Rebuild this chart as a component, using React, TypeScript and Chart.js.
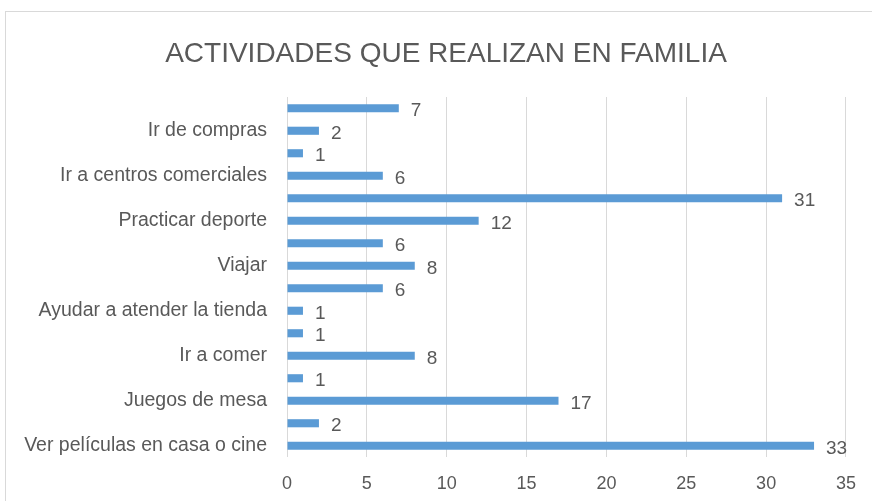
import React, { useEffect, useRef } from "react";
import { Chart, registerables } from "chart.js";

Chart.register(...registerables);

const TITLE = "ACTIVIDADES QUE REALIZAN EN FAMILIA";
// Top-to-bottom order; Excel hides every other category label
const categories = [
  "",
  "Ir de compras",
  "",
  "Ir a centros comerciales",
  "",
  "Practicar deporte",
  "",
  "Viajar",
  "",
  "Ayudar a atender la tienda",
  "",
  "Ir a comer",
  "",
  "Juegos de mesa",
  "",
  "Ver películas en casa o cine",
];
const values = [7, 2, 1, 6, 31, 12, 6, 8, 6, 1, 1, 8, 1, 17, 2, 33];
const xTicks = [0, 5, 10, 15, 20, 25, 30, 35];

const FONT = "'Liberation Sans', Arial, sans-serif";
const TEXT = "#595959";
const GRID = "#d9d9d9";
const BAR = "#5b9bd5";

const framePlugin = {
  id: "frame",
  beforeDraw(chart: any) {
    const ctx = chart.ctx;
    ctx.save();
    ctx.fillStyle = "#ffffff";
    ctx.fillRect(0, 0, chart.width, chart.height);
    ctx.strokeStyle = GRID;
    ctx.lineWidth = 1;
    ctx.strokeRect(5.5, 11.5, chart.width + 20, chart.height + 20);
    // title
    ctx.fillStyle = TEXT;
    ctx.font = `28px ${FONT}`;
    ctx.textAlign = "center";
    ctx.textBaseline = "alphabetic";
    ctx.fillText(TITLE, 446, 62);
    ctx.restore();
  },
};

const valueLabelPlugin = {
  id: "valueLabels",
  afterDatasetsDraw(chart: any) {
    const ctx = chart.ctx;
    const meta = chart.getDatasetMeta(0);
    const data = chart.data.datasets[0].data;
    ctx.save();
    ctx.fillStyle = TEXT;
    ctx.font = `19px ${FONT}`;
    ctx.textAlign = "left";
    ctx.textBaseline = "alphabetic";
    meta.data.forEach((el: any, i: number) => {
      ctx.fillText(String(data[i]), el.x + 12, el.y + 8);
    });
    ctx.restore();
  },
};

export default function App() {
  const ref = useRef<HTMLCanvasElement>(null);
  useEffect(() => {
    document.body.style.margin = "0";
    const chart = new Chart(ref.current!, {
      type: "bar",
      data: {
        labels: categories,
        datasets: [
          {
            data: values,
            backgroundColor: BAR,
            barPercentage: 0.36,
            categoryPercentage: 1,
          },
        ],
      },
      options: {
        indexAxis: "y",
        animation: false,
        responsive: false,
        layout: { padding: { left: 0, right: 26, top: 97, bottom: 0 } },
        plugins: {
          legend: { display: false },
          tooltip: { enabled: false },
          title: { display: false },
        },
        scales: {
          x: {
            min: 0,
            max: 35,
            afterBuildTicks: (scale: any) => {
              scale.ticks = xTicks.map((v) => ({ value: v }));
            },
            afterFit: (scale: any) => {
              scale.height = 44;
            },
            grid: { color: GRID, drawTicks: false },
            border: { display: false },
            ticks: {
              color: TEXT,
              font: { family: FONT, size: 18 },
              padding: 16,
            },
          },
          y: {
            grid: { display: false, drawTicks: false },
            border: { display: false },
            afterFit: (scale: any) => {
              scale.width = 287;
            },
            ticks: {
              autoSkip: false,
              color: TEXT,
              font: { family: FONT, size: 19.5 },
              padding: 20,
            },
          },
        },
      },
      plugins: [framePlugin, valueLabelPlugin],
    });
    return () => chart.destroy();
  }, []);
  return (
    <div style={{ width: 872, height: 501 }}>
      <canvas ref={ref} width={872} height={501} style={{ display: "block" }} />
    </div>
  );
}
